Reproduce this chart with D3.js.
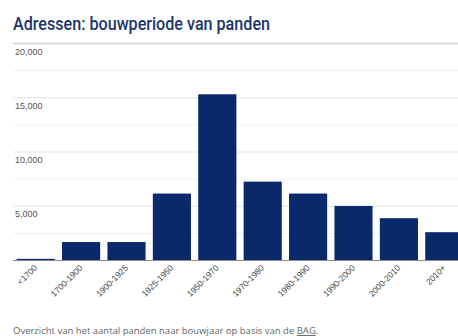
<!DOCTYPE html>
<html>
<head>
<meta charset="utf-8">
<script src="https://cdn.jsdelivr.net/npm/d3@7"></script>
<style>
  body { margin: 0; background: #fff; }
  svg { display: block; font-family: "Liberation Sans", Arial, sans-serif; }
</style>
</head>
<body>
<div id="chart"></div>
<script>
// data
var periods = ["<1700", "1700-1900", "1900-1925", "1925-1950", "1950-1970", "1970-1980", "1980-1990", "1990-2000", "2000-2010", "2010+"];
var counts = [150, 1700, 1700, 6170, 15320, 7270, 6170, 5030, 3900, 2610];
var yTicks = [0, 5000, 10000, 15000, 20000];
var yMinor = [2500, 7500, 12500, 17500];

var W = 458, H = 336;
var svg = d3.select("#chart")
    .append("svg")
    .attr("width", W)
    .attr("height", H);

// title
svg.append("text")
    .attr("x", 13)
    .attr("y", 30)
    .attr("textLength", 257)
    .attr("lengthAdjust", "spacingAndGlyphs")
    .text("Adressen: bouwperiode van panden")
    .style("font-family", "Roboto, sans-serif")
    .style("font-weight", "500")
    .style("font-size", "17.5px")
    .style("fill", "#1c3569");

var x = d3.scaleBand()
    .domain(periods)
    .range([13, 467])
    .paddingInner(0.16)
    .paddingOuter(0.08);

var y = d3.scaleLinear()
    .domain([0, 20000])
    .range([260.5, 43.5]);

// minor gridlines
svg.append("g")
    .selectAll("line")
    .data(yMinor)
    .join("line")
    .attr("x1", 13).attr("x2", W)
    .attr("y1", d => y(d)).attr("y2", d => y(d))
    .attr("stroke", "#f0f0f0");

// major gridlines
svg.append("g")
    .selectAll("line")
    .data(yTicks.slice(1))
    .join("line")
    .attr("x1", 13).attr("x2", W)
    .attr("y1", d => y(d)).attr("y2", d => y(d))
    .attr("stroke", d => d == 20000 ? "#d4d4d4" : "#e2e2e2")
    .attr("stroke-width", d => d == 20000 ? 1.5 : 1);

// y labels, sitting just under their gridline
svg.append("g")
    .selectAll("text")
    .data(yTicks.slice(1))
    .join("text")
    .attr("x", 15)
    .attr("y", d => y(d) + 11)
    .text(d => d3.format(",")(d))
    .style("font-size", "9px")
    .style("fill", "#555");

// bars
svg.append("g")
    .selectAll("rect")
    .data(periods)
    .join("rect")
    .attr("x", d => x(d))
    .attr("y", (d, i) => y(counts[i]))
    .attr("width", x.bandwidth())
    .attr("height", (d, i) => y(0) - y(counts[i]))
    .attr("fill", "#0a296b");

// baseline
svg.append("line")
    .attr("x1", 13).attr("x2", W)
    .attr("y1", y(0)).attr("y2", y(0))
    .attr("stroke", "#888");

// x labels, rotated
svg.append("g")
    .selectAll("text")
    .data(periods)
    .join("text")
    .attr("text-anchor", "end")
    .attr("transform", d => `translate(${x(d) + x.bandwidth() / 2 + 2},${y(0) + 8}) rotate(-45)`)
    .text(d => d)
    .style("font-size", "8.5px")
    .style("fill", "#444");

// caption
var cap = svg.append("text")
    .attr("x", 13)
    .attr("y", 334)
    .style("font-family", "'Open Sans', sans-serif")
    .style("font-size", "9.5px")
    .style("fill", "#666");
cap.append("tspan").text("Overzicht van het aantal panden naar bouwjaar op basis van de ");
cap.append("tspan").text("BAG").style("text-decoration", "underline");
cap.append("tspan").text(".");
</script>
</body>
</html>
